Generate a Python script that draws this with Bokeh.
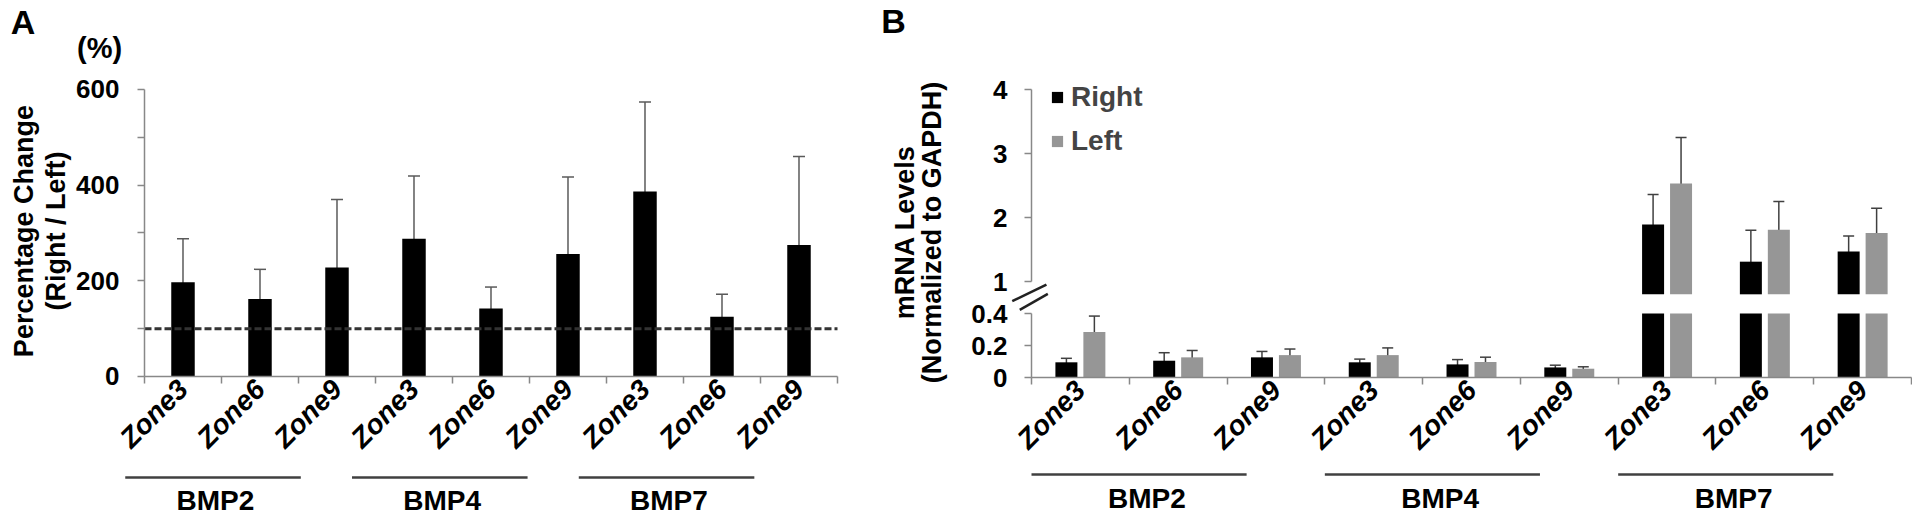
from math import pi
from bokeh.plotting import figure
from bokeh.models import (Range1d, FixedTicker, ColumnDataSource, Whisker, TeeHead,
                          Label, Arrow, Legend, LegendItem)
from bokeh.layouts import row
from bokeh.embed import file_html
from bokeh.resources import INLINE

# ---------------- data ----------------
genes = ["BMP2", "BMP4", "BMP7"]
zones = ["Zone3", "Zone6", "Zone9"]
categories = [z for g in genes for z in zones]

# Panel A: percentage change (Right / Left)
pct_mean = [197, 162, 228, 288, 142, 256, 387, 125, 275]
pct_sd = [91, 62, 142, 131, 45, 161, 187, 47, 185]
ref_level = 100
a_ticks = [0, 200, 400, 600]
a_minor = [100, 300, 500]

# Panel B: mRNA levels (normalized to GAPDH)
right_mean = [0.095, 0.105, 0.126, 0.095, 0.082, 0.063, 1.89, 1.31, 1.47]
right_sd = [0.025, 0.05, 0.037, 0.02, 0.03, 0.014, 0.47, 0.49, 0.24]
left_mean = [0.284, 0.126, 0.14, 0.14, 0.097, 0.055, 2.53, 1.81, 1.76]
left_sd = [0.10, 0.043, 0.038, 0.045, 0.03, 0.012, 0.72, 0.44, 0.385]
b_ticks = [0, 0.2, 0.4, 1, 2, 3, 4]
b_tick_labels = ["0", "0.2", "0.4", "1", "2", "3", "4"]
series_names = ["Right", "Left"]

# ---------------- style ----------------
FONT = "Liberation Sans"
AX = "#888888"
GRAY = "#969696"

BREAK_LOW, BREAK_HIGH, GAP = 0.4, 1.0, 0.5
UPPER_BASE = 0.8
n = len(categories)
H = 510


def low_map(v):
    return v / BREAK_LOW


def up_map(v):
    return low_map(BREAK_LOW) + GAP + (v - BREAK_HIGH)


def tick_map(v):
    return low_map(v) if v <= BREAK_LOW else up_map(v)


def style_axes(p, ybounds):
    for ax in p.axis:
        ax.axis_line_color = AX
        ax.axis_line_width = 1.5
        ax.major_tick_line_color = AX
        ax.minor_tick_line_color = AX
        ax.major_tick_line_width = 1.5
        ax.minor_tick_line_width = 1.5
        ax.major_label_text_font = FONT
        ax.major_label_text_font_style = "bold"
        ax.major_label_text_font_size = "26px"
        ax.major_label_text_color = "black"
    xa = p.xaxis[0]
    xa.fixed_location = 0
    xa.bounds = (0, n)
    xa.ticker = FixedTicker(ticks=[i + 0.5 for i in range(n)],
                            minor_ticks=list(range(n + 1)))
    xa.major_label_overrides = {i + 0.5: c for i, c in enumerate(categories)}
    xa.major_tick_out = 0
    xa.major_tick_in = 0
    xa.minor_tick_out = 7
    xa.minor_tick_in = 0
    xa.major_label_orientation = pi / 4
    xa.major_label_text_font_style = "bold italic"
    xa.major_label_text_font_size = "28px"
    xa.major_label_standoff = 1
    ya = p.yaxis[0]
    ya.fixed_location = 0
    ya.bounds = ybounds
    ya.major_tick_out = 7
    ya.major_tick_in = 0
    ya.minor_tick_out = 7
    ya.minor_tick_in = 0
    ya.major_label_standoff = 18
    p.xgrid.visible = False
    p.ygrid.visible = False
    p.outline_line_color = None


def text_label(p, x, y, text, size="27px", angle=0, align="center"):
    p.add_layout(Label(x=x, y=y, text=text, angle=angle, text_font=FONT,
                       text_font_style="bold", text_font_size=size,
                       text_align=align, text_baseline="middle", text_color="black"))


def seg(p, x0, y0, x1, y1, color, width):
    p.add_layout(Arrow(end=None, x_start=x0, y_start=y0, x_end=x1, y_end=y1,
                       line_color=color, line_width=width))


def make_fig(width, xr, yr):
    return figure(width=width, height=H, x_range=Range1d(*xr), y_range=Range1d(*yr),
                  output_backend="svg", toolbar_location=None, title=None,
                  min_border_left=0, min_border_right=0, min_border_top=0, min_border_bottom=0)


# ---------------- Panel A ----------------
pA = make_fig(868, (-1.8701, 9.4026), (-280.14, 786.06))
style_axes(pA, (0, 600))
pA.yaxis[0].ticker = FixedTicker(ticks=a_ticks, minor_ticks=a_minor)

srcA = ColumnDataSource(dict(
    x=[i + 0.5 for i in range(n)],
    top=pct_mean,
    upper=[m + s for m, s in zip(pct_mean, pct_sd)],
    lower=[m - s for m, s in zip(pct_mean, pct_sd)],
))
pA.vbar(x="x", top="top", bottom=0, width=0.305, source=srcA,
        fill_color="black", line_color=None)
pA.segment(x0=0, y0=ref_level, x1=n, y1=ref_level, line_dash="7 3",
           line_width=3, line_color="#333333")
pA.add_layout(Whisker(source=srcA, base="x", upper="upper", lower="lower",
                      line_color="#5a5a5a", line_width=1.5,
                      upper_head=TeeHead(size=12, line_color="#5a5a5a", line_width=1.5),
                      lower_head=TeeHead(size=12, line_color="#5a5a5a", line_width=1.5)))

text_label(pA, -1.578, 741, "A", size="34px")
text_label(pA, -0.584, 686, "(%)", size="29px")
text_label(pA, -1.565, 304, "Percentage Change", angle=pi / 2)
text_label(pA, -1.150, 304, "(Right / Left)", angle=pi / 2)
for g, name in enumerate(genes):
    x0 = g * 2.945 - 0.25
    x1 = x0 + 2.28
    seg(pA, x0, -211, x1, -211, "#404040", 2.5)
    text_label(pA, (x0 + x1) / 2 + 0.03, -259, name, size="28px")

# ---------------- Panel B ----------------
pB = make_fig(1044, (-1.667, 9.010), (-2.078, 5.891))
style_axes(pB, (0, up_map(4)))
yb = pB.yaxis[0]
yb.ticker = FixedTicker(ticks=[tick_map(t) for t in b_ticks])
yb.major_label_overrides = {tick_map(t): lab for t, lab in zip(b_ticks, b_tick_labels)}
yb.axis_line_color = None
yb.major_label_standoff = 17

BAR_W, OFF = 0.225, 0.143
renderers = []
for means, sds, color, sign in [(right_mean, right_sd, "black", -1),
                                (left_mean, left_sd, GRAY, 1)]:
    xs = [i + 0.5 + sign * OFF for i in range(n)]
    low_src = ColumnDataSource(dict(x=xs, top=[low_map(min(m, BREAK_LOW)) for m in means]))
    r = pB.vbar(x="x", top="top", bottom=0, width=BAR_W, source=low_src,
                fill_color=color, line_color=None)
    renderers.append(r)
    big = [i for i, m in enumerate(means) if m > BREAK_HIGH]
    up_src = ColumnDataSource(dict(x=[xs[i] for i in big],
                                   top=[up_map(means[i]) for i in big],
                                   bottom=[up_map(UPPER_BASE) for i in big]))
    pB.vbar(x="x", top="top", bottom="bottom", width=BAR_W, source=up_src,
            fill_color=color, line_color=None)
    upper, lower = [], []
    for m, s in zip(means, sds):
        if m > BREAK_HIGH:
            upper.append(up_map(m + s))
            lower.append(up_map(max(m - s, UPPER_BASE)))
        else:
            upper.append(low_map(m + s))
            lower.append(low_map(m - s))
    err_src = ColumnDataSource(dict(x=xs, upper=upper, lower=lower))
    pB.add_layout(Whisker(source=err_src, base="x", upper="upper", lower="lower",
                          line_color="#404040", line_width=1.5,
                          upper_head=TeeHead(size=11, line_color="#404040", line_width=1.5),
                          lower_head=TeeHead(size=11, line_color="#404040", line_width=1.5)))

# broken y axis line and break marks
seg(pB, 0, 0, 0, low_map(BREAK_LOW), AX, 1.5)
seg(pB, 0, up_map(BREAK_HIGH), 0, up_map(4), AX, 1.5)
seg(pB, -0.197, 1.192, 0.153, 1.453, "#222222", 2.5)
seg(pB, -0.120, 1.058, 0.167, 1.308, "#222222", 2.5)

legend = Legend(items=[LegendItem(label=series_names[0], renderers=[renderers[0]]),
                       LegendItem(label=series_names[1], renderers=[renderers[1]])],
                location=(182, 353), glyph_width=14, glyph_height=14, label_standoff=7,
                label_text_font=FONT, label_text_font_style="bold", label_text_font_size="28px",
                spacing=12, padding=0, margin=0, border_line_color=None,
                background_fill_alpha=0)
pB.add_layout(legend)

text_label(pB, -1.411, 5.578, "B", size="34px")
text_label(pB, -1.297, 2.27, "mRNA Levels", angle=pi / 2)
text_label(pB, -1.019, 2.266, "(Normalized to GAPDH)", angle=pi / 2)
for g, name in enumerate(genes):
    x0 = g * 3
    x1 = x0 + 2.2
    seg(pB, x0, -1.516, x1, -1.516, "#404040", 2.5)
    text_label(pB, (x0 + x1) / 2 + 0.08, -1.89, name, size="28px")

layout = row(pA, pB)
open("out.html", "w").write(file_html(layout, INLINE))
